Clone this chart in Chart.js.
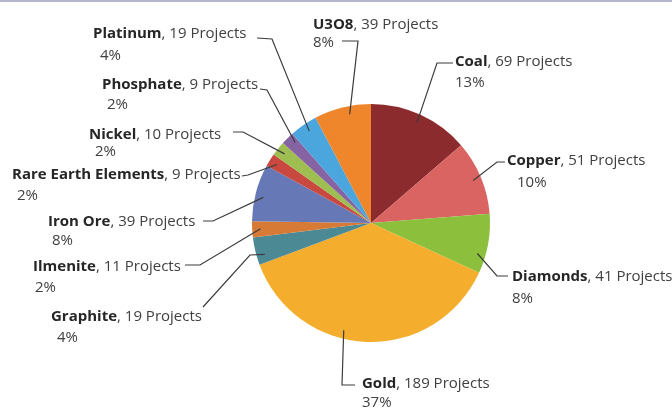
<!DOCTYPE html>
<html>
<head>
<meta charset="utf-8">
<script src="https://cdn.jsdelivr.net/npm/chart.js@4.4.1/dist/chart.umd.min.js"></script>
<style>
  html, body { margin: 0; padding: 0; background: #fff; }
  #wrap { width: 672px; height: 408px; position: relative; }
</style>
</head>
<body>
<div id="wrap"><canvas id="pieChart" width="672" height="408"></canvas></div>
<script>
// data
const categories = ['Coal', 'Copper', 'Diamonds', 'Gold', 'Graphite', 'Ilmenite', 'Iron Ore',
    'Rare Earth Elements', 'Nickel', 'Phosphate', 'Platinum', 'U3O8'];
const projects = [69, 51, 41, 189, 19, 11, 39, 9, 10, 9, 19, 39];
const percentLabels = ['13%', '10%', '8%', '37%', '4%', '2%', '8%', '2%', '2%', '2%', '4%', '8%'];

const sliceColors = ['#8C2B2D', '#DA6461', '#8BBF3C', '#F4AD2D', '#4B8995', '#D77A35', '#6679B6',
    '#C9483F', '#9EBE52', '#8664A4', '#4BA6DD', '#F0862B'];

// label placement: text x/y, percent x/y, leader elbow + end, where on the slice the leader starts (t)
const labelLayout = [
    { x: 455, y: 62,  px: 455, py: 83,  elbow: [437, 63],  end: [453, 63],  t: 0.5 },
    { x: 507, y: 161, px: 517, py: 183, elbow: [497, 162], end: [505, 162], t: 0.5 },
    { x: 512, y: 277, px: 512, py: 299, elbow: [497, 276], end: [508, 276], t: 0.7 },
    { x: 362, y: 384, px: 362, py: 403, elbow: [342, 385], end: [355, 385], t: 0.59 },
    { x: 51,  y: 317, px: 57,  py: 338, elbow: [250, 255], end: [203, 307], t: 0.3 },
    { x: 33,  y: 267, px: 35,  py: 288, elbow: [200, 265], end: [185, 265], t: 0.5 },
    { x: 48,  y: 222, px: 52,  py: 241, elbow: [213, 221], end: [203, 221], t: 0.45 },
    { x: 12,  y: 175, px: 17,  py: 196, elbow: [248, 175], end: [242, 176], t: 0.5 },
    { x: 89,  y: 135, px: 95,  py: 152, elbow: [243, 132], end: [233, 132], t: 0.5 },
    { x: 102, y: 85,  px: 107, py: 105, elbow: [267, 90],  end: [260, 89],  t: 0.7 },
    { x: 93,  y: 34,  px: 100, py: 56,  elbow: [272, 39],  end: [257, 38],  t: 0.55 },
    { x: 313, y: 25,  px: 313, py: 43,  elbow: [358, 41],  end: [342, 41],  t: 0.6 }
];

const FONT = '"Open Sans", "Noto Sans", sans-serif';
const FONT_SIZE = 15;

const calloutPlugin = {
    id: 'callouts',
    beforeDraw(chart) {
        const c = chart.ctx;
        c.save();
        c.fillStyle = '#B4B8CC';
        c.fillRect(0, 0, chart.width, 2);
        c.restore();
    },
    afterDraw(chart) {
        const c = chart.ctx;
        const arcs = chart.getDatasetMeta(0).data;
        c.save();
        arcs.forEach((arc, i) => {
            const lay = labelLayout[i];
            const p = arc.getProps(['x', 'y', 'startAngle', 'endAngle', 'outerRadius'], true);
            const a = p.startAngle + (p.endAngle - p.startAngle) * lay.t;
            const r = p.outerRadius * 0.93;
            const sx = p.x + Math.cos(a) * r;
            const sy = p.y + Math.sin(a) * r;

            c.strokeStyle = '#3c3c3c';
            c.lineWidth = 1.2;
            c.beginPath();
            c.moveTo(sx, sy);
            c.lineTo(lay.elbow[0], lay.elbow[1]);
            c.lineTo(lay.end[0], lay.end[1]);
            c.stroke();

            c.textBaseline = 'middle';
            c.textAlign = 'left';
            c.font = 'bold ' + FONT_SIZE + 'px ' + FONT;
            c.fillStyle = '#262626';
            const name = categories[i];
            c.fillText(name, lay.x, lay.y);
            const w = c.measureText(name).width;
            c.font = FONT_SIZE + 'px ' + FONT;
            c.fillStyle = '#404040';
            c.fillText(', ' + projects[i] + ' Projects', lay.x + w, lay.y);
            c.fillText(percentLabels[i], lay.px, lay.py);
        });
        c.restore();
    }
};

const ctx = document.getElementById('pieChart').getContext('2d');
const pieChart = new Chart(ctx, {
    type: 'pie',
    data: {
        labels: categories,
        datasets: [{
            data: projects,
            backgroundColor: sliceColors,
            borderWidth: 0
        }]
    },
    options: {
        responsive: false,
        animation: false,
        layout: {
            padding: { left: 252, right: 182, top: 104, bottom: 66 }
        },
        plugins: {
            legend: { display: false },
            tooltip: { enabled: false }
        }
    },
    plugins: [calloutPlugin]
});
</script>
</body>
</html>
